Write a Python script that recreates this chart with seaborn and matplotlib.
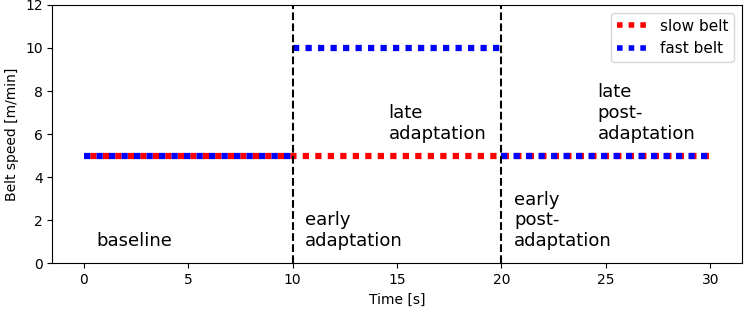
import matplotlib
matplotlib.use("Agg")
import matplotlib.pyplot as plt
from matplotlib.lines import Line2D
import seaborn as sns
import pandas as pd

# belt speeds per phase
slow_time = [0, 30]
slow_speed = [5, 5]

fast_time = [0, 10, 10, 20, 20, 30]
fast_speed = [5, 5, 10, 10, 5, 5]
fast_seg = [0, 0, 1, 1, 2, 2]

phase_bounds = [10, 20]
phase_labels = ["baseline", "early\nadaptation", "late\nadaptation",
                "early\npost-\nadaptation", "late\npost-\nadaptation"]
phase_label_x = [0.6, 10.6, 14.6, 20.6, 24.6]
phase_label_y = [0.6, 0.6, 5.58, 0.6, 5.6]

slow = pd.DataFrame({"time": slow_time, "speed": slow_speed})
fast = pd.DataFrame({"time": fast_time, "speed": fast_speed, "seg": fast_seg})

fig, ax = plt.subplots(figsize=(7.47, 3.11), dpi=100)
fig.subplots_adjust(left=0.07, right=0.993, bottom=0.154, top=0.984)

sns.lineplot(data=slow, x="time", y="speed", color="red", lw=4.5,
             linestyle=(1, (1, 1)), ax=ax)
for seg in sorted(fast["seg"].unique()):
    sub = fast[fast["seg"] == seg]
    sns.lineplot(data=sub, x="time", y="speed", color="blue", lw=4.5,
                 linestyle=(0, (1, 1)), ax=ax)

for b in phase_bounds:
    ax.axvline(b, color="black", ls="--", lw=1.5)

for txt, x, y in zip(phase_labels, phase_label_x, phase_label_y):
    ax.text(x, y, txt, fontsize=13, ha="left", va="bottom")

ax.set_ylim(0, 12)
ax.set_xlabel("Time [s]")
ax.set_ylabel("Belt speed [m/min]")

handles = [Line2D([], [], color="red", lw=4, linestyle=(0, (1, 1.1))),
           Line2D([], [], color="blue", lw=4, linestyle=(0, (1, 1.1)))]
ax.legend(handles, ["slow belt", "fast belt"], loc="upper right", fontsize=11)

fig.savefig("out.png", dpi=100)
